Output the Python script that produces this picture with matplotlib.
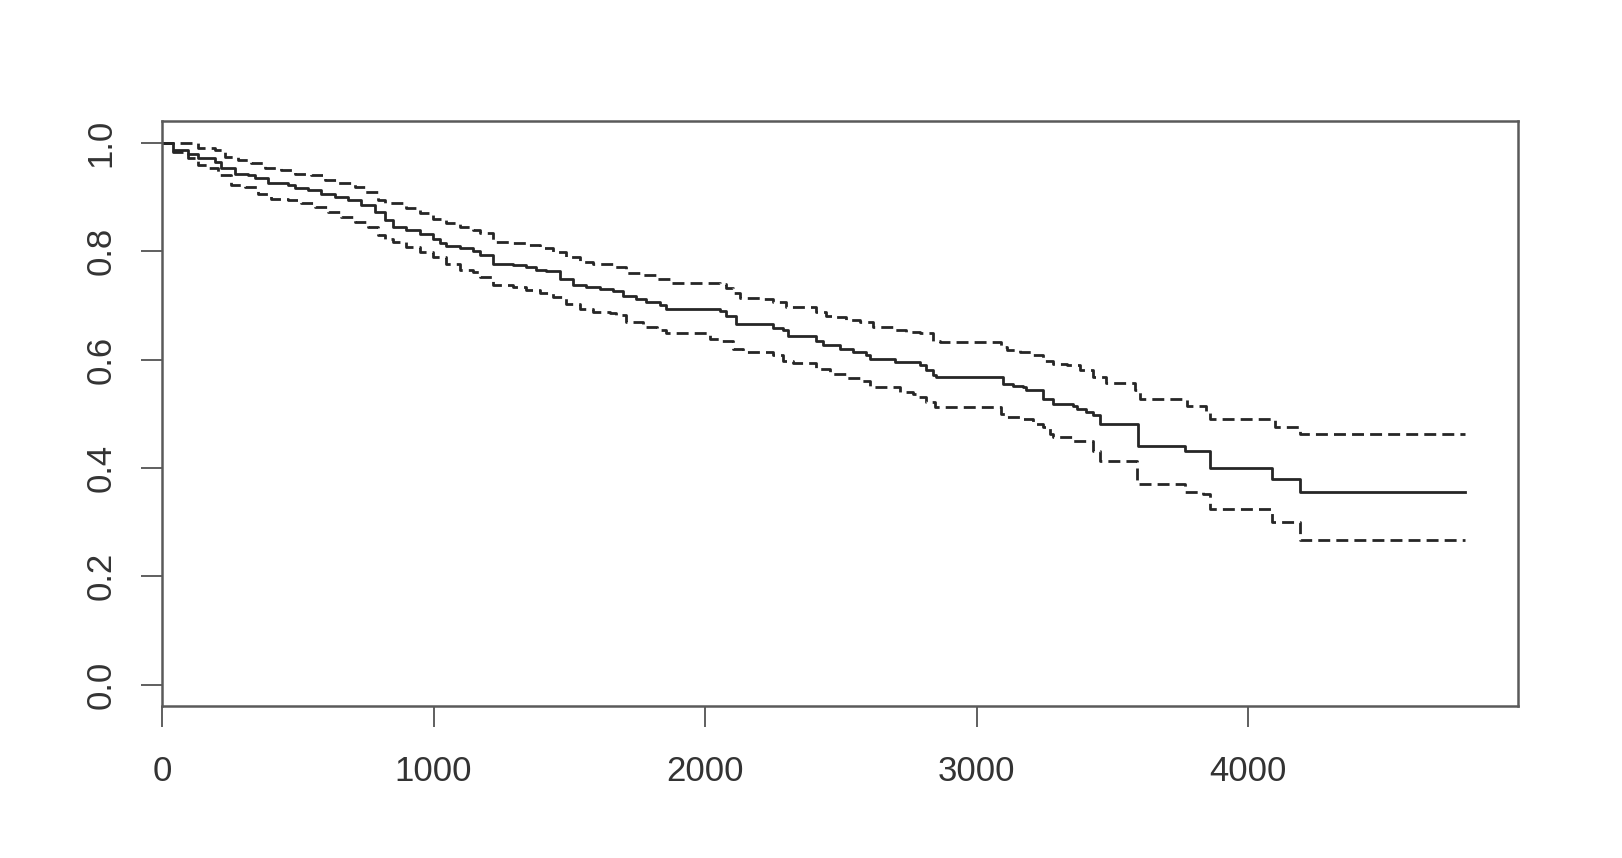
import numpy as np
import matplotlib
matplotlib.use("Agg")
import matplotlib.pyplot as plt

# Kaplan-Meier estimate (step values)
surv_t = [0, 40, 95, 132, 194, 218, 267, 316, 341, 390, 464, 488, 537, 587, 636,
          685, 734, 783, 820, 851, 900, 949, 998, 1022, 1047, 1096, 1145, 1170,
          1219, 1292, 1342, 1379, 1415, 1464, 1513, 1563, 1612, 1661, 1698, 1747,
          1784, 1833, 1857, 2054, 2078, 2115, 2250, 2287, 2305, 2410, 2434, 2471,
          2496, 2545, 2594, 2606, 2698, 2790, 2815, 2839, 2852, 3097, 3134, 3171,
          3183, 3245, 3281, 3355, 3368, 3404, 3429, 3453, 3594, 3766, 3858, 4086,
          4190, 4800]
surv_s = [1.0, 0.986, 0.980, 0.971, 0.965, 0.953, 0.943, 0.940, 0.934, 0.925,
          0.922, 0.916, 0.912, 0.906, 0.900, 0.894, 0.885, 0.872, 0.857, 0.845,
          0.839, 0.832, 0.823, 0.814, 0.809, 0.805, 0.800, 0.792, 0.777, 0.774,
          0.770, 0.765, 0.763, 0.749, 0.737, 0.734, 0.730, 0.727, 0.718, 0.712,
          0.706, 0.700, 0.693, 0.690, 0.681, 0.666, 0.659, 0.654, 0.643, 0.635,
          0.627, 0.626, 0.620, 0.614, 0.608, 0.601, 0.595, 0.589, 0.580, 0.571,
          0.567, 0.555, 0.552, 0.549, 0.543, 0.528, 0.518, 0.515, 0.509, 0.503,
          0.497, 0.481, 0.441, 0.432, 0.400, 0.379, 0.355, 0.355]

# upper confidence limit
upper_t = [0, 84, 132, 194, 231, 280, 329, 378, 439, 488, 550, 599, 648, 709, 746,
           795, 820, 900, 949, 998, 1047, 1096, 1145, 1170, 1219, 1292, 1342, 1391,
           1440, 1489, 1538, 1587, 1612, 1661, 1710, 1771, 1821, 1870, 2054, 2078,
           2103, 2127, 2201, 2250, 2299, 2410, 2447, 2471, 2520, 2569, 2618, 2692,
           2741, 2790, 2839, 2864, 3091, 3110, 3159, 3208, 3245, 3281, 3331, 3380,
           3429, 3478, 3582, 3601, 3773, 3846, 3858, 4098, 4190, 4800]
upper_s = [1.0, 0.999, 0.990, 0.986, 0.974, 0.968, 0.962, 0.953, 0.950, 0.943,
           0.940, 0.931, 0.925, 0.919, 0.909, 0.894, 0.888, 0.879, 0.870, 0.860,
           0.851, 0.845, 0.839, 0.833, 0.817, 0.814, 0.811, 0.805, 0.799, 0.789,
           0.780, 0.777, 0.776, 0.771, 0.759, 0.755, 0.749, 0.741, 0.739, 0.731,
           0.722, 0.714, 0.712, 0.706, 0.697, 0.688, 0.680, 0.678, 0.672, 0.669,
           0.660, 0.654, 0.651, 0.648, 0.635, 0.632, 0.623, 0.617, 0.614, 0.608,
           0.598, 0.592, 0.589, 0.580, 0.567, 0.556, 0.543, 0.528, 0.515, 0.503,
           0.491, 0.475, 0.462, 0.462]

# lower confidence limit
lower_t = [0, 40, 95, 132, 169, 206, 255, 304, 353, 403, 464, 513, 562, 611, 660,
           709, 758, 795, 820, 851, 900, 949, 998, 1047, 1096, 1145, 1170, 1219,
           1292, 1342, 1391, 1440, 1489, 1538, 1587, 1649, 1673, 1710, 1771, 1821,
           1857, 2017, 2054, 2103, 2140, 2250, 2287, 2324, 2410, 2459, 2471, 2520,
           2569, 2606, 2717, 2766, 2778, 2815, 2846, 3091, 3110, 3159, 3208, 3245,
           3269, 3281, 3355, 3429, 3453, 3589, 3766, 3834, 3858, 4086, 4190, 4800]
lower_s = [1.0, 0.983, 0.971, 0.959, 0.953, 0.940, 0.922, 0.919, 0.906, 0.897,
           0.894, 0.888, 0.882, 0.872, 0.863, 0.854, 0.845, 0.829, 0.823, 0.817,
           0.808, 0.799, 0.789, 0.777, 0.765, 0.762, 0.752, 0.737, 0.734, 0.728,
           0.722, 0.715, 0.703, 0.694, 0.688, 0.685, 0.682, 0.669, 0.660, 0.654,
           0.648, 0.638, 0.635, 0.620, 0.614, 0.608, 0.598, 0.593, 0.583, 0.577,
           0.574, 0.565, 0.561, 0.549, 0.540, 0.537, 0.531, 0.521, 0.512, 0.500,
           0.494, 0.491, 0.481, 0.475, 0.463, 0.457, 0.450, 0.432, 0.413, 0.370,
           0.355, 0.352, 0.324, 0.301, 0.2675, 0.2675]

x_ticks = [0, 1000, 2000, 3000, 4000]
y_ticks = [0.0, 0.2, 0.4, 0.6, 0.8, 1.0]

plt.rcParams['font.family'] = ['Liberation Sans', 'DejaVu Sans']

fig = plt.figure(figsize=(16.22, 8.58), dpi=100)
ax = fig.add_axes([0.0999, 0.1766, 0.8357, 0.6824])

line_col = '#262626'
ax.step(surv_t, surv_s, where='post', color=line_col, lw=2.0)
ax.step(upper_t, upper_s, where='post', color=line_col, lw=2.0,
        linestyle=(0, (4.3, 2.2)))
ax.step(lower_t, lower_s, where='post', color=line_col, lw=2.0,
        linestyle=(0, (4.3, 2.2)))

ax.set_xlim(0, 4992)
ax.set_ylim(-0.04, 1.04)
ax.set_xticks(x_ticks)
ax.set_xticklabels([str(v) for v in x_ticks])
ax.set_yticks(y_ticks)
ax.set_yticklabels([f"{v:.1f}" for v in y_ticks], rotation=90, va='center')

for side in ['top', 'right', 'bottom', 'left']:
    ax.spines[side].set_color('#5a5a5a')
    ax.spines[side].set_linewidth(1.8)

ax.tick_params(axis='both', direction='out', length=15, width=1.2,
               color='#444444', labelsize=25, labelcolor='#333333')
ax.tick_params(axis='x', pad=20)
ax.tick_params(axis='y', pad=17)

fig.savefig('out.png', dpi=100)
